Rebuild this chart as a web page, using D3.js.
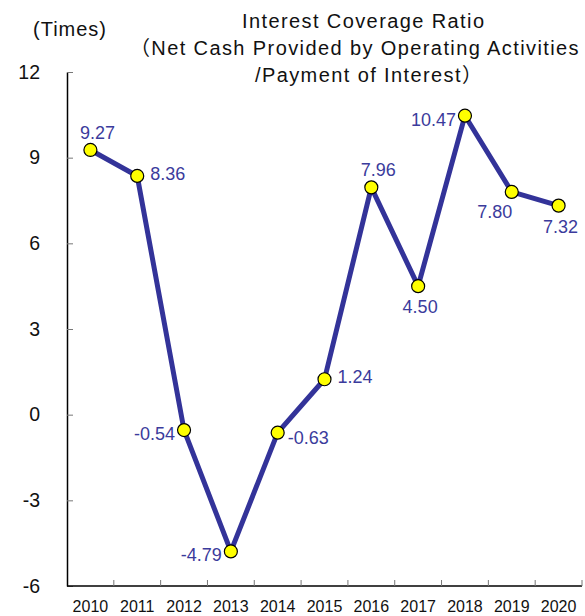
<!DOCTYPE html>
<html>
<head>
<meta charset="utf-8">
<script src="https://cdn.jsdelivr.net/npm/d3@7"></script>
<style>
  body { margin: 0; background: #fff; }
  svg { font-family: "Liberation Sans", Arial, "Noto Sans CJK JP", sans-serif; }
</style>
</head>
<body>
<svg id="chart" width="585" height="616"></svg>
<script>
// data
const years = ["2010", "2011", "2012", "2013", "2014", "2015", "2016", "2017", "2018", "2019", "2020"];
const ratio = [9.27, 8.36, -0.54, -4.79, -0.63, 1.24, 7.96, 4.50, 10.47, 7.80, 7.32];
const labelSide = ["above", "right", "left", "left", "belowRight", "right", "above", "below", "left", "belowLeft", "below"];
const yTicks = [-6, -3, 0, 3, 6, 9, 12];
const titleLines = ["Interest Coverage Ratio", "（Net Cash Provided by Operating Activities", "/Payment of Interest）"];

const svg = d3.select("#chart");
const plotLeft = 67, plotRight = 582, plotTop = 72, plotBottom = 586;

const x = d3.scaleBand().domain(years).range([plotLeft, plotRight]);
const y = d3.scaleLinear().domain([-6, 12]).range([plotBottom, plotTop]);

// eixo y
const yAxis = svg.append("g")
    .attr("transform", `translate(${plotLeft},0)`)
    .call(d3.axisLeft(y).tickValues(yTicks).tickFormat(d => String(d))
        .tickSizeInner(-6).tickSizeOuter(0).tickPadding(27));
yAxis.select(".domain").attr("stroke", "#000").attr("stroke-width", 1.5);
yAxis.selectAll(".tick line").attr("stroke", "#777");
yAxis.selectAll(".tick text").attr("font-size", 19.5).attr("fill", "#111")
    .attr("font-family", "'Liberation Sans', Arial, sans-serif");

// eixo x
svg.append("line")
    .attr("x1", plotLeft).attr("x2", plotRight)
    .attr("y1", plotBottom).attr("y2", plotBottom)
    .attr("stroke", "#000").attr("stroke-width", 1.5);

const bounds = years.map(d => x(d)).concat([plotRight]);
svg.selectAll(".xtick").data(bounds.slice(1))
    .enter().append("line")
    .attr("x1", d => d).attr("x2", d => d)
    .attr("y1", plotBottom).attr("y2", plotBottom - 6)
    .attr("stroke", "#777");

svg.selectAll(".xlabel").data(years)
    .enter().append("text")
    .attr("x", d => x(d) + x.bandwidth() / 2)
    .attr("y", 612)
    .attr("text-anchor", "middle")
    .attr("font-size", 16)
    .attr("fill", "#111")
    .text(d => d);

// titulo
svg.append("text").attr("x", 33).attr("y", 36)
    .attr("font-size", 20).attr("letter-spacing", 1)
    .attr("fill", "#111").text("(Times)");

const titleX = [242, 580, 255];
const titleAnchor = ["start", "end", "start"];
svg.selectAll(".title").data(titleLines)
    .enter().append("text")
    .attr("x", (d, i) => titleX[i])
    .attr("y", (d, i) => 28 + i * 27)
    .attr("text-anchor", (d, i) => titleAnchor[i])
    .attr("font-size", 20)
    .attr("letter-spacing", 1.4)
    .attr("fill", "#111")
    .text(d => d);

// linha
const line = d3.line()
    .x((d, i) => x(years[i]) + x.bandwidth() / 2)
    .y(d => y(d));

svg.append("path")
    .datum(ratio)
    .attr("d", line)
    .attr("fill", "none")
    .attr("stroke", "#333399")
    .attr("stroke-width", 5)
    .attr("stroke-linejoin", "round");

svg.selectAll(".pt").data(ratio)
    .enter().append("circle")
    .attr("cx", (d, i) => x(years[i]) + x.bandwidth() / 2)
    .attr("cy", d => y(d))
    .attr("r", 6.5)
    .attr("fill", "#ffff00")
    .attr("stroke", "#000")
    .attr("stroke-width", 1.2);

// rótulos dos valores
const offsets = {
    above: [7, -11, "middle"],
    right: [13, 4, "start"],
    left: [-9, 10, "end"],
    belowRight: [10, 11, "start"],
    below: [2, 27, "middle"],
    belowLeft: [-17, 26, "middle"]
};
svg.selectAll(".lbl").data(ratio)
    .enter().append("text")
    .attr("x", (d, i) => x(years[i]) + x.bandwidth() / 2 + offsets[labelSide[i]][0])
    .attr("y", d => y(d))
    .attr("dy", (d, i) => offsets[labelSide[i]][1])
    .attr("text-anchor", (d, i) => offsets[labelSide[i]][2])
    .attr("font-size", 18)
    .attr("fill", "#3b3b9c")
    .text(d => d.toFixed(2));
</script>
</body>
</html>
